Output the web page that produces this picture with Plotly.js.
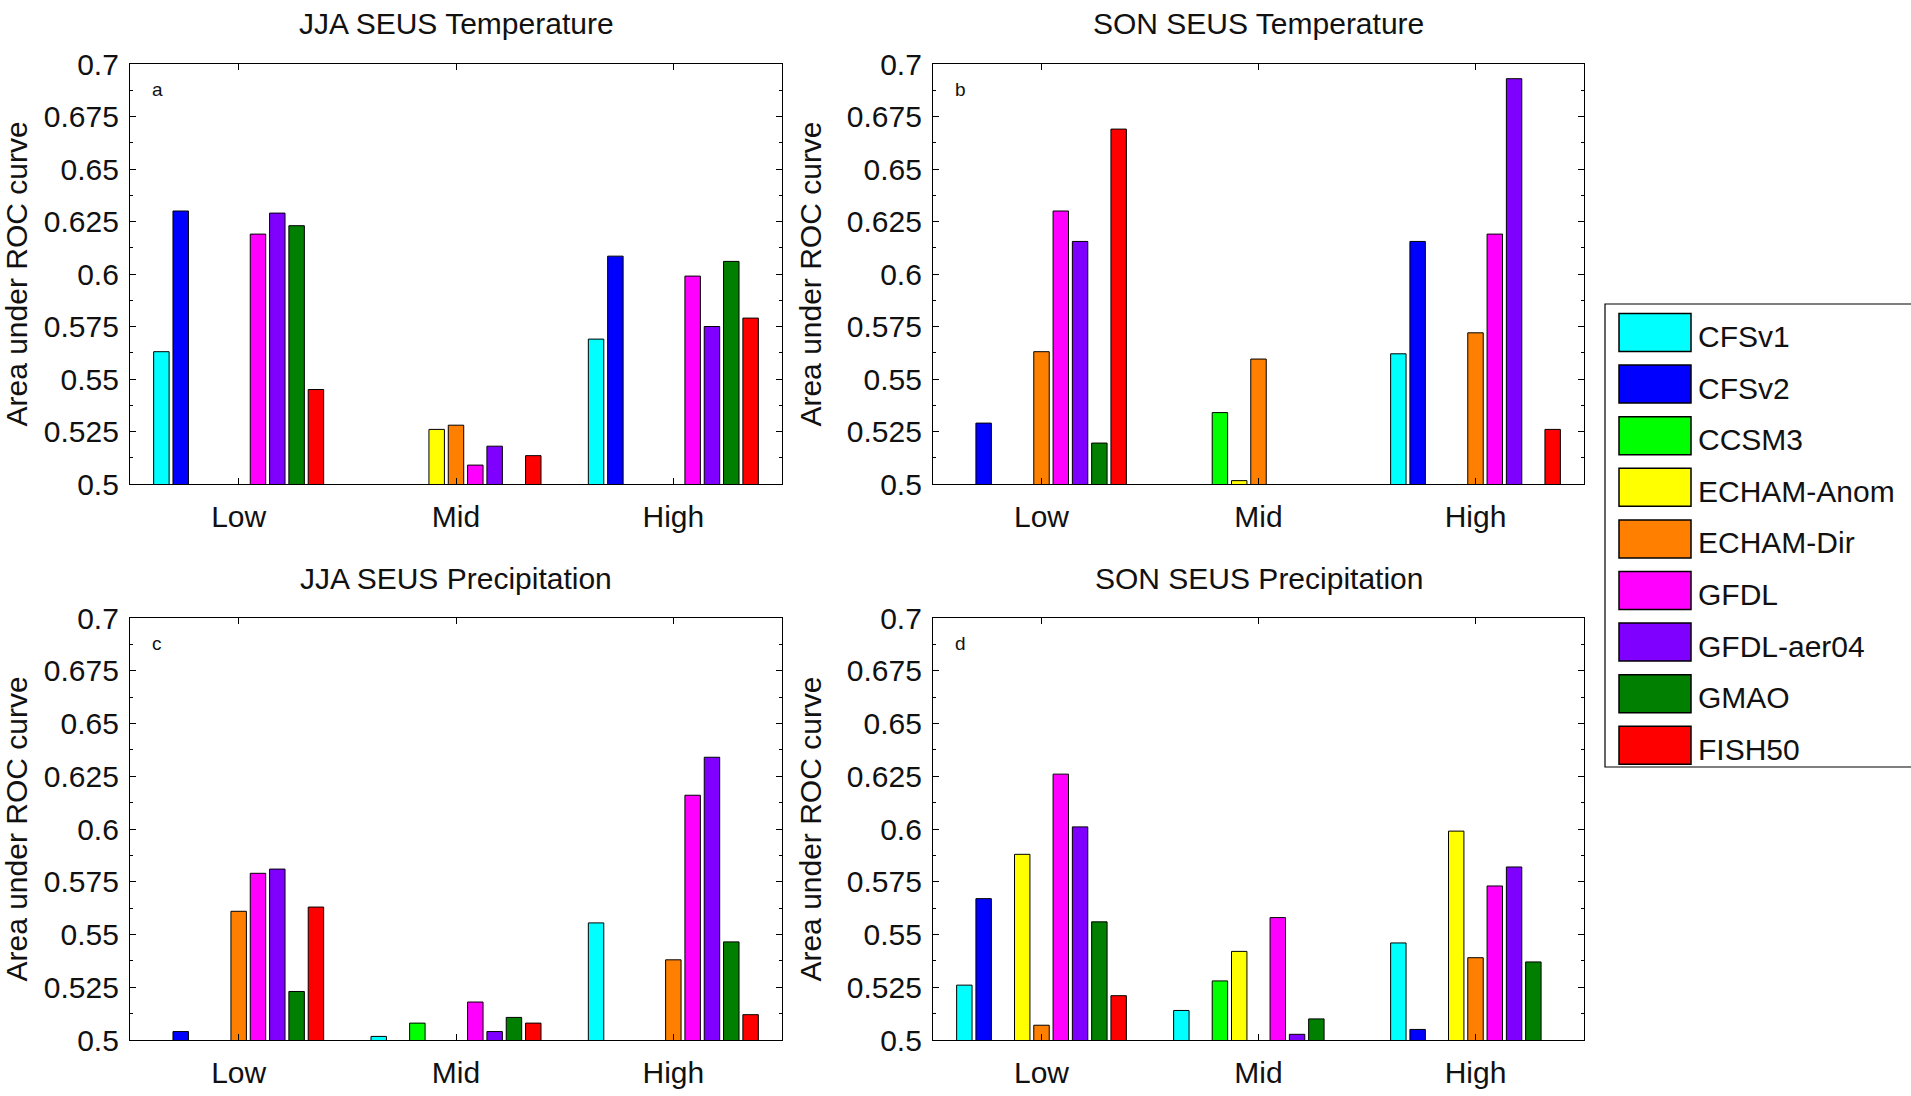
<!DOCTYPE html>
<html>
<head>
<meta charset="utf-8">
<script src="https://cdn.plot.ly/plotly-3.0.1.min.js"></script>
<style>html,body{margin:0;padding:0;background:#fff;}#chart{width:1911px;height:1096px;}</style>
</head>
<body>
<div id="chart"></div>
<script>
// ---------------- DATA ----------------
const categories = ['Low', 'Mid', 'High'];
const models = ['CFSv1', 'CFSv2', 'CCSM3', 'ECHAM-Anom', 'ECHAM-Dir', 'GFDL', 'GFDL-aer04', 'GMAO', 'FISH50'];
const modelColors = ['#00FFFF', '#0000FF', '#00FF00', '#FFFF00', '#FF8000', '#FF00FF', '#8000FF', '#007F00', '#FF0000'];
const panelTitles = ['JJA SEUS Temperature', 'SON SEUS Temperature', 'JJA SEUS Precipitation', 'SON SEUS Precipitation'];
const panelLetters = ['a', 'b', 'c', 'd'];
const yTickVals = [0.5, 0.525, 0.55, 0.575, 0.6, 0.625, 0.65, 0.675, 0.7];
const yTickLabels = ['0.5', '0.525', '0.55', '0.575', '0.6', '0.625', '0.65', '0.675', '0.7'];
const yTitle = 'Area under ROC curve';

// rows: models (same order as above); columns: Low, Mid, High
const jjaTemp = [
  [0.563, null, 0.569],
  [0.630, null, 0.6085],
  [null, null, null],
  [null, 0.526, null],
  [null, 0.528, null],
  [0.619, 0.509, 0.599],
  [0.629, 0.518, 0.575],
  [0.623, null, 0.606],
  [0.545, 0.5135, 0.579]
];
const sonTemp = [
  [null, null, 0.562],
  [0.529, null, 0.6155],
  [null, 0.534, null],
  [null, 0.5016, null],
  [0.563, 0.5595, 0.572],
  [0.630, null, 0.619],
  [0.6155, null, 0.693],
  [0.5195, null, null],
  [0.669, null, 0.526]
];
const jjaPrecip = [
  [null, 0.5017, 0.5555],
  [0.504, null, null],
  [null, 0.508, null],
  [null, null, null],
  [0.561, null, 0.538],
  [0.579, 0.518, 0.616],
  [0.581, 0.504, 0.634],
  [0.523, 0.5107, 0.5465],
  [0.563, 0.508, 0.512]
];
const sonPrecip = [
  [0.526, 0.514, 0.546],
  [0.567, null, 0.505],
  [null, 0.528, null],
  [0.588, 0.542, 0.599],
  [0.507, null, 0.539],
  [0.626, 0.558, 0.573],
  [0.601, 0.5027, 0.582],
  [0.556, 0.510, 0.537],
  [0.521, null, null]
];
const panels = [jjaTemp, sonTemp, jjaPrecip, sonPrecip];

// ---------------- LAYOUT ----------------
const W = 1911, H = 1096;
const FONT = 'Liberation Sans, Arial, Helvetica, sans-serif';
const TXT = '#111';
const px = v => v / W;
const py = v => 1 - v / H;
// plot boxes in pixels [left, right, top, bottom]
const boxes = [
  [130, 782, 64, 484],
  [933, 1584, 64, 484],
  [130, 782, 618, 1040],
  [933, 1584, 618, 1040]
];

const data = [];
const layout = {
  width: W, height: H,
  margin: {l: 0, r: 0, t: 0, b: 0},
  paper_bgcolor: '#fff', plot_bgcolor: '#fff',
  font: {family: FONT, size: 30, color: TXT},
  barmode: 'group', bargap: 0.2, bargroupgap: 0.2,
  showlegend: false,
  annotations: [], shapes: []
};

panels.forEach((vals, p) => {
  const sfx = p === 0 ? '' : String(p + 1);
  const xa = 'x' + sfx, ya = 'y' + sfx;
  vals.forEach((row, m) => {
    data.push({
      type: 'bar', x: categories, y: row, name: models[m],
      xaxis: xa, yaxis: ya,
      marker: {color: modelColors[m], line: {color: '#000', width: 1}},
      hoverinfo: 'name+y'
    });
  });
  const b = boxes[p];
  layout['xaxis' + sfx] = {
    domain: [px(b[0]), px(b[1])], anchor: ya,
    type: 'category', range: [-0.5, 2.5],
    showline: true, linecolor: '#000', linewidth: 1.2, mirror: 'ticks',
    ticks: 'inside', ticklen: 6, tickcolor: '#000', tickwidth: 1.2,
    showgrid: false, zeroline: false,
    tickfont: {family: FONT, size: 30, color: TXT},
    ticklabelstandoff: 6, fixedrange: true
  };
  layout['yaxis' + sfx] = {
    domain: [py(b[3]), py(b[2])], anchor: xa,
    range: [0.5, 0.7],
    tickmode: 'array', tickvals: yTickVals, ticktext: yTickLabels,
    showline: true, linecolor: '#000', linewidth: 1.2, mirror: 'ticks',
    ticks: 'inside', ticklen: 6, tickcolor: '#000', tickwidth: 1.2,
    minor: {ticks: 'inside', ticklen: 3, tickcolor: '#000', tickwidth: 1, tickmode: 'linear', tick0: 0.5, dtick: 0.0125, showgrid: false},
    showgrid: false, zeroline: false,
    tickfont: {family: FONT, size: 30, color: TXT},
    ticklabelstandoff: 4,
    title: {text: yTitle, font: {family: FONT, size: 30, color: TXT}, standoff: 16},
    fixedrange: true
  };
  // panel title
  layout.annotations.push({
    xref: xa + ' domain', yref: ya + ' domain',
    x: 0.5, y: 1 + 40 / (b[3] - b[2]), xanchor: 'center', yanchor: 'middle',
    text: panelTitles[p], showarrow: false,
    font: {family: FONT, size: 30, color: TXT}
  });
  // panel letter
  layout.annotations.push({
    xref: xa + ' domain', yref: ya + ' domain',
    x: 27 / (b[1] - b[0]), y: 1 - 25 / (b[3] - b[2]), xanchor: 'center', yanchor: 'middle',
    text: panelLetters[p], showarrow: false,
    font: {family: FONT, size: 19, color: TXT}
  });
});

// ---------------- LEGEND (built from models/colors) ----------------
layout.shapes.push({
  type: 'rect', xref: 'paper', yref: 'paper',
  x0: px(1605), x1: px(1930), y0: py(767), y1: py(304),
  line: {color: '#000', width: 1.2}, fillcolor: 'rgba(0,0,0,0)'
});
models.forEach((name, i) => {
  const top = 313.5 + i * 51.6;
  layout.shapes.push({
    type: 'rect', xref: 'paper', yref: 'paper',
    x0: px(1619), x1: px(1691), y0: py(top + 38), y1: py(top),
    line: {color: '#000', width: 1.5}, fillcolor: modelColors[i]
  });
  layout.annotations.push({
    xref: 'paper', yref: 'paper', x: px(1696), y: py(top + 23),
    xanchor: 'left', yanchor: 'middle', text: name, showarrow: false,
    font: {family: FONT, size: 30, color: TXT}
  });
});

Plotly.newPlot('chart', data, layout, {displayModeBar: false, staticPlot: false});
</script>
</body>
</html>
